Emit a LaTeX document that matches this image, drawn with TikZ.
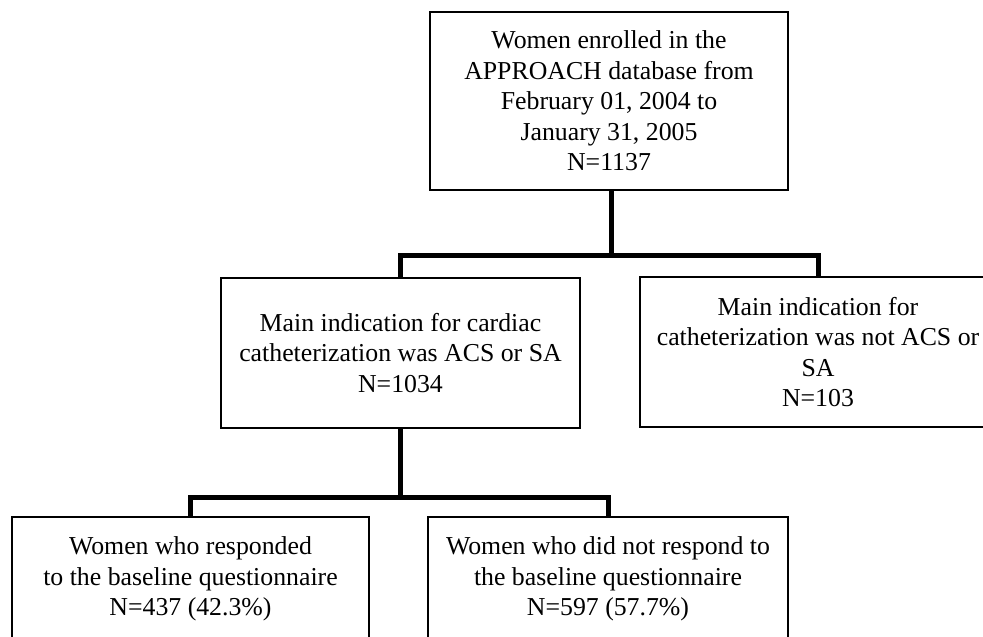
\documentclass[tikz,border=0pt]{standalone}
\usepackage{fontspec}
\setmainfont{Liberation Serif}
\begin{document}
\begin{tikzpicture}[x=1pt,y=-1pt,
  box/.style={draw,line width=1.5pt,inner sep=0pt,align=center,
    font=\fontsize{25.8}{30.5}\selectfont},
  conn/.style={line width=5pt}]
\useasboundingbox (0,0) rectangle (983,637);
\clip (0,0) rectangle (983,637);
\node[box,minimum width=358pt,minimum height=178pt] (top) at (609,101)
  {Women enrolled in the\\APPROACH database from\\February 01, 2004 to\\January 31, 2005\\N=1137};
\node[box,minimum width=359pt,minimum height=150pt] (ml) at (400.5,353)
  {Main indication for cardiac\\catheterization was ACS or SA\\N=1034};
\node[box,minimum width=356pt,minimum height=150pt] (mr) at (818,352)
  {Main indication for\\catheterization was not ACS or\\SA\\N=103};
\node[box,minimum width=357pt,minimum height=124pt] (bl) at (190.5,579)
  {Women who responded\\to the baseline questionnaire\\N=437 (42.3\%)};
\node[box,minimum width=360pt,minimum height=124pt] (br) at (608,579)
  {Women who did not respond to\\the baseline questionnaire\\N=597 (57.7\%)};
\coordinate (j1) at (611,255);
\coordinate (j2) at (400.5,497);
\draw[conn] (top.south -| j1) -- (j1);
\draw[conn] (ml.north) |- (j1) -| (mr.north);
\draw[conn] (ml.south) -- (j2);
\draw[conn] (bl.north) |- (j2) -| (br.north);
\end{tikzpicture}
\end{document}
